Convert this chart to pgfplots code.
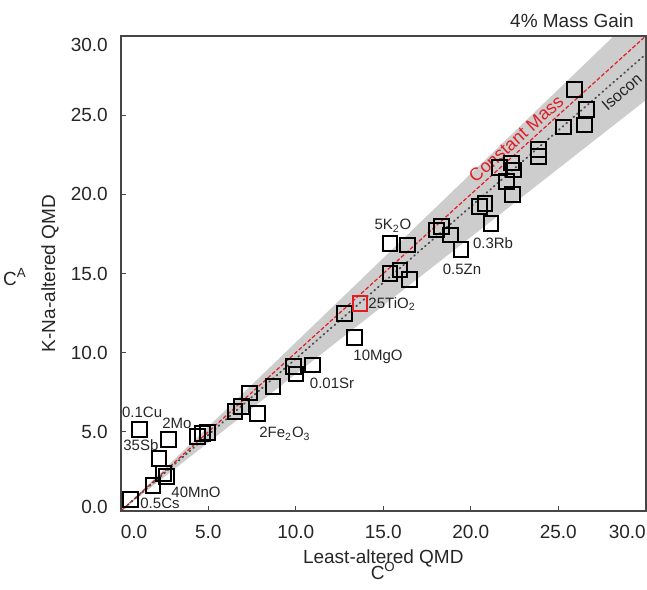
\documentclass[border=0pt]{standalone}
\usepackage{pgfplots}
\pgfplotsset{compat=1.18}
\usepackage{pgfplotstable}
\usepackage{fontspec}
\setmainfont{Liberation Sans}
\definecolor{bandgray}{RGB}{205,205,205}
\definecolor{cmred}{RGB}{225,30,35}
\definecolor{axgray}{RGB}{70,70,70}
\pgfplotstableread{
x y
0.54 0.71
1.84 1.62
2.45 2.38
2.62 2.20
2.18 3.33
2.71 4.53
1.06 5.16
4.37 4.69
4.68 4.90
4.94 4.97
6.53 6.27
6.88 6.61
7.82 6.17
7.36 7.45
8.70 7.88
9.86 9.12
10.01 8.65
10.94 9.22
12.77 12.49
13.34 10.97
15.38 14.98
15.95 15.22
16.50 14.60
15.38 16.87
16.39 16.80
18.05 17.75
18.34 17.96
18.85 17.43
19.44 16.53
20.49 19.22
20.81 19.43
21.15 18.17
21.65 21.67
22.32 21.98
22.43 21.54
22.05 20.80
22.39 20.00
23.88 22.83
23.88 22.38
25.29 24.25
26.51 24.38
26.62 25.38
25.91 26.64
}\samples
\begin{document}
\begin{tikzpicture}
\useasboundingbox (-60.4pt,-39pt) rectangle (263.1pt,255.5pt);
\begin{axis}[
  name=ax,
  at={(0,0)}, anchor=south west,
  scale only axis, width=262.5pt, height=237.5pt,
  xmin=0, xmax=30, ymin=0, ymax=30,
  axis on top,
  axis line style={axgray, line width=0.75pt},
  tick style={axgray, line width=0.6pt},
  tick align=inside, major tick length=2.5pt,
  xtick pos=left, ytick pos=left,
  xtick={0,5,...,30}, ytick={0,5,...,30},
  xticklabels={\makebox[0pt][l]{0.0},5.0,10.0,15.0,20.0,25.0,\makebox[0pt][r]{30.0}},
  yticklabels={\raisebox{2.2pt}[\height][\depth]{0.0},5.0,10.0,15.0,20.0,25.0,\raisebox{-4.5pt}[\height][\depth]{30.0}},
  tick label style={font=\fontsize{9.5}{11}\selectfont, text=black!85},
  xticklabel style={yshift=-3.5pt},
  yticklabel style={xshift=-3pt},
  xlabel={Least-altered QMD},
  xlabel style={at={(rel axis cs:0.5,0)}, anchor=base, yshift=-26pt, font=\fontsize{9.5}{11}\selectfont, text=black!85},
  ylabel={K-Na-altered QMD},
  ylabel style={at={(rel axis cs:-0.1349,0.5)}, anchor=center, font=\fontsize{9.5}{11}\selectfont, text=black!85},
]
\addplot[fill=bandgray, draw=none] coordinates {(0,0) (30,31.95) (30,25.95) (0,0)};
\addplot[cmred, dash pattern=on 2pt off 1pt, line width=0.6pt] coordinates {(0,0) (30,30)};
\addplot[black!70, dash pattern=on 0.5pt off 1.9pt, line width=0.9pt, line cap=round] coordinates {(0,0) (30,28.85)};
\addplot[only marks, mark=square, mark size=3.7pt, mark options={line width=1pt, draw=black}] table[x=x,y=y] {\samples};
\addplot[only marks, mark=square, mark size=3.7pt, mark options={line width=1pt, draw=cmred}] coordinates {(13.67,13.12)};

\node[rotate=42.1, anchor=south, inner sep=2pt, text=cmred, font=\fontsize{9}{10}\selectfont] at (axis cs:23.0,23.0) {Constant Mass};
\node[rotate=41, anchor=north, text=black!85, font=\fontsize{8}{10}\selectfont] at (axis cs:28.15,27.07) {Isocon};

\begin{scope}[every node/.style={font=\fontsize{7.5}{9}\selectfont, text=black!85, inner sep=0pt}]
\node at (axis cs:1.22,6.25) {0.1Cu};
\node at (axis cs:3.21,5.56) {2Mo};
\node at (axis cs:1.15,4.17) {35Sb};
\node at (axis cs:4.30,1.20) {40MnO};
\node at (axis cs:2.24,0.51) {0.5Cs};
\node at (axis cs:9.38,4.86) {2Fe\textsubscript{2}O\textsubscript{3}};
\node at (axis cs:12.07,8.09) {0.01Sr};
\node at (axis cs:14.70,9.73) {10MgO};
\node at (axis cs:15.50,13.08) {25TiO\textsubscript{2}};
\node at (axis cs:15.55,18.00) {5K\textsubscript{2}O};
\node at (axis cs:19.50,15.29) {0.5Zn};
\node at (axis cs:21.27,16.93) {0.3Rb};
\end{scope}
\end{axis}
\node[anchor=base east, font=\fontsize{9.5}{11}\selectfont, text=black!85] at ([xshift=-2.5pt,yshift=4pt]ax.north east) {4\% Mass Gain};
\node[anchor=center, font=\fontsize{9.5}{11}\selectfont, text=black!85] at ([xshift=-52.9pt,yshift=-1.6pt]ax.west) {C\textsuperscript{A}};
\node[anchor=base, font=\fontsize{9.5}{11}\selectfont, text=black!85] at ([yshift=-34pt]ax.south) {C\textsuperscript{O}};
\end{tikzpicture}
\end{document}
